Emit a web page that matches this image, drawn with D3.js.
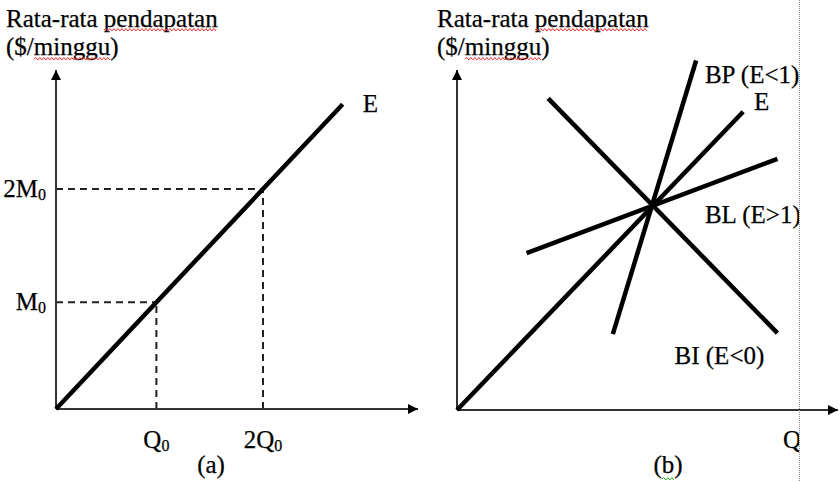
<!DOCTYPE html>
<html>
<head>
<meta charset="utf-8">
<script src="https://cdn.jsdelivr.net/npm/d3@7"></script>
<style>
  body { margin: 0; background: #fff; }
  svg { display: block; }
  text { font-family: "Liberation Serif", "Times New Roman", serif; fill: #000; stroke: #000; stroke-width: 0.25; }
</style>
</head>
<body>
<svg width="839" height="482"></svg>
<script>
// panel (a): Engel curve, income levels vs quantity
const yTitle = ["Rata-rata pendapatan", "($/minggu)"];
const incomeTicks = [{ v: 0.97, base: "M", sub: "0" }, { v: 2, base: "2M", sub: "0" }];
const quantityTicks = [{ v: 0.97, base: "Q", sub: "0" }, { v: 2, base: "2Q", sub: "0" }];
const engelA = [[0, 0], [2.77, 2.77]];

// panel (b): curves through a common point
const curvesB = [
  { name: "E", pts: [[0, 0], [2.92, 2.91]] },
  { name: "BP", pts: [[1.59, 0.74], [2.44, 3.41]] },
  { name: "BL", pts: [[0.71, 1.53], [3.27, 2.45]] },
  { name: "BI", pts: [[0.93, 3.04], [3.27, 0.75]] }
];
const labelsB = [
  { text: "BP (E<1)", x: 2.53, y: 3.19 },
  { text: "E", x: 3.03, y: 2.93 },
  { text: "BL (E>1)", x: 2.53, y: 1.82 },
  { text: "BI (E<0)", x: 2.22, y: 0.45 }
];

const svg = d3.select("svg");
const fs = 25;

svg.append("defs").append("marker")
  .attr("id", "arrow")
  .attr("markerUnits", "userSpaceOnUse")
  .attr("viewBox", "0 0 10 10")
  .attr("refX", 10).attr("refY", 5)
  .attr("markerWidth", 11).attr("markerHeight", 10)
  .attr("orient", "auto")
  .append("path")
  .attr("d", "M0,0 L10,5 L0,10 Z")
  .attr("fill", "#000");

const clip = svg.select("defs").append("clipPath").attr("id", "page");
clip.append("rect").attr("x", 0).attr("y", 0).attr("width", 799).attr("height", 482);

function squiggle(x0, x1, y, color) {
  let d = `M${x0},${y}`;
  let up = true;
  for (let x = x0 + 2; x <= x1; x += 2) {
    d += ` L${x},${up ? y - 1.5 : y + 1}`;
    up = !up;
  }
  svg.append("path").attr("d", d).attr("fill", "none")
    .attr("stroke", color).attr("stroke-width", 1);
}

function title(x) {
  const t1 = svg.append("text").attr("x", x).attr("y", 27).attr("font-size", fs).text(yTitle[0]);
  const t2 = svg.append("text").attr("x", x).attr("y", 55).attr("font-size", fs).text(yTitle[1]);
  const n1 = t1.node(), n2 = t2.node();
  const s1 = n1.getSubStringLength(0, 10);
  squiggle(x + s1, x + n1.getComputedTextLength(), 30, "#e33");
  const s2 = n2.getSubStringLength(0, 3);
  squiggle(x + s2, x + s2 + n2.getSubStringLength(3, 6), 59, "#e33");
}

function subLabel(x, y, d, anchor) {
  const t = svg.append("text").attr("x", x).attr("y", y)
    .attr("font-size", fs).attr("text-anchor", anchor);
  t.append("tspan").text(d.base);
  t.append("tspan").attr("font-size", 16).attr("dy", 3).text(d.sub);
  return t;
}

function axes(x, y, xEnd, yEnd) {
  svg.append("line")
    .attr("x1", x(0)).attr("y1", y(0)).attr("x2", x(xEnd)).attr("y2", y(0))
    .attr("stroke", "#333").attr("stroke-width", 2).attr("marker-end", "url(#arrow)");
  svg.append("line")
    .attr("x1", x(0)).attr("y1", y(0)).attr("x2", x(0)).attr("y2", y(yEnd))
    .attr("stroke", "#333").attr("stroke-width", 2).attr("marker-end", "url(#arrow)");
}

const line = (x, y) => d3.line().x(d => x(d[0])).y(d => y(d[1]));

// ---- panel (a)
const xA = d3.scaleLinear().domain([0, 2]).range([56, 263]);
const yA = d3.scaleLinear().domain([0, 2]).range([409, 189]);

title(6);

incomeTicks.forEach((d, i) => {
  svg.append("line")
    .attr("x1", xA(0)).attr("x2", xA(quantityTicks[i].v))
    .attr("y1", yA(d.v)).attr("y2", yA(d.v))
    .attr("stroke", "#222").attr("stroke-width", 2).attr("stroke-dasharray", "7,5");
  subLabel(xA(0) - 10, yA(d.v) + 8, d, "end");
});
quantityTicks.forEach((d, i) => {
  svg.append("line")
    .attr("x1", xA(d.v)).attr("x2", xA(d.v))
    .attr("y1", yA(0)).attr("y2", yA(incomeTicks[i].v))
    .attr("stroke", "#222").attr("stroke-width", 2).attr("stroke-dasharray", "7,5");
  subLabel(xA(d.v), 448, d, "middle");
});

axes(xA, yA, xA.invert(418), yA.invert(70));

svg.append("path").datum(engelA)
  .attr("d", line(xA, yA))
  .attr("stroke", "#000").attr("stroke-width", 4.5).attr("fill", "none");

svg.append("text").attr("x", xA(engelA[1][0]) + 20).attr("y", yA(engelA[1][1]) + 8)
  .attr("font-size", fs).text("E");

svg.append("text").attr("x", 211).attr("y", 473).attr("font-size", fs)
  .attr("text-anchor", "middle").text("(a)");

// ---- panel (b)
const xB = d3.scaleLinear().domain([0, 2]).range([457, 653]);
const yB = d3.scaleLinear().domain([0, 2]).range([410, 205]);

title(437);

axes(xB, yB, xB.invert(838), yB.invert(70));

svg.selectAll(".curveB").data(curvesB).enter().append("path")
  .attr("class", "curveB")
  .attr("d", d => line(xB, yB)(d.pts))
  .attr("stroke", "#000").attr("stroke-width", 4.5).attr("fill", "none");

const gLab = svg.append("g").attr("clip-path", "url(#page)");
labelsB.forEach(d => {
  gLab.append("text").attr("x", xB(d.x)).attr("y", yB(d.y)).attr("font-size", fs).text(d.text);
});
gLab.append("text").attr("x", 783).attr("y", 448).attr("font-size", fs).text("Q");

const bLab = svg.append("text").attr("x", 668).attr("y", 473).attr("font-size", fs)
  .attr("text-anchor", "middle").text("(b)");
const bn = bLab.node();
const bx = 668 - bn.getComputedTextLength() / 2 + bn.getSubStringLength(0, 1);
squiggle(bx, bx + bn.getSubStringLength(1, 1), 479, "#3a3");

// page edge marker
svg.append("line").attr("x1", 799.5).attr("x2", 799.5).attr("y1", 0).attr("y2", 482)
  .attr("stroke", "#888").attr("stroke-width", 1).attr("stroke-dasharray", "1,1");
</script>
</body>
</html>
